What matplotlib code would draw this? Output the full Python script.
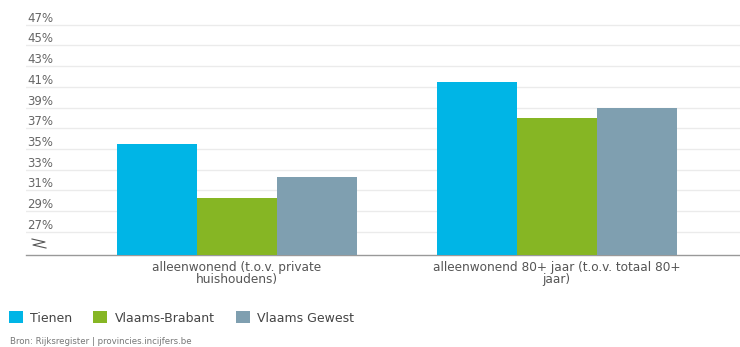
import matplotlib.pyplot as plt
import numpy as np

categories = ["alleenwonend (t.o.v. private\nhuishoudens)",
              "alleenwonend 80+ jaar (t.o.v. totaal 80+\njaar)"]
series = ["Tienen", "Vlaams-Brabant", "Vlaams Gewest"]
tienen = [35.5, 41.5]
vlaams_brabant = [30.3, 38.0]
vlaams_gewest = [32.3, 39.0]
yticks = list(range(27, 48, 2))

colors = ["#00b5e6", "#86b624", "#7f9fb0"]

fig = plt.figure(figsize=(7.40, 3.47), dpi=100)
ax_h = 0.7084
ax = fig.add_axes([26 / 740, 92 / 347, 714 / 740, ax_h])

x = np.arange(len(categories))
width = 0.25
handles = []
for i, (name, vals) in enumerate(zip(series, [tienen, vlaams_brabant, vlaams_gewest])):
    b = ax.bar(x + (i - 1) * width, vals, width, color=colors[i],
               edgecolor="none", label=name, zorder=3)
    handles.append(b)

ax.set_ylim(24.75, 48.5)
ax.set_xlim(-0.658, 1.573)

ax.set_yticks(yticks)
ax.set_yticklabels([f"{t}%" for t in yticks])
ax.yaxis.grid(True, color="#ebebeb", linewidth=1, zorder=0)
ax.tick_params(axis="y", length=0, pad=-1, labelsize=8.5, labelcolor="#666666")
for lbl in ax.get_yticklabels():
    lbl.set_ha("left")
    lbl.set_va("bottom")

ax.set_xticks(x)
ax.set_xticklabels(categories, fontsize=8.7, color="#555555", linespacing=0.95)
ax.tick_params(axis="x", length=0, pad=4)

for s in ["top", "right", "left"]:
    ax.spines[s].set_visible(False)
ax.spines["bottom"].set_color("#999999")
ax.spines["bottom"].set_linewidth(1)

# axis break mark (pixel coords converted to axes fraction)
zx = np.array([32, 45, 33, 46])
zy = np.array([239, 242, 245, 248])
ax.plot((zx - 26) / 714, (255 - zy) / (ax_h * 347), transform=ax.transAxes,
        color="#555555", linewidth=0.8, clip_on=False)

fig.legend(handles=handles, labels=series, loc="center left",
           bbox_to_anchor=(0.0, (347 - 318) / 347), frameon=False, ncol=3,
           fontsize=9, handlelength=1.1, handleheight=1.1, handletextpad=0.6,
           columnspacing=1.7, labelcolor="#444444", borderaxespad=0.3)

fig.text(10 / 740, (347 - 342) / 347, "Bron: Rijksregister | provincies.incijfers.be",
         fontsize=6.2, color="#777777", va="center")

fig.savefig("out.png", dpi=100)
